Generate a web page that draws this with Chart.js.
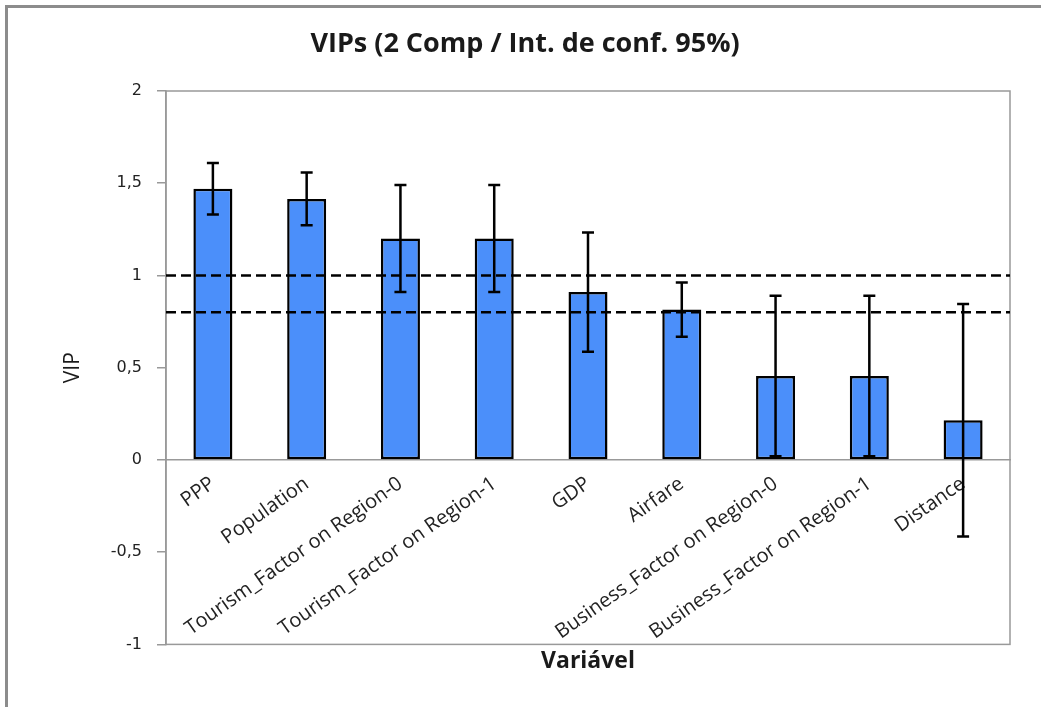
<!DOCTYPE html>
<html>
<head>
<meta charset="utf-8">
<title>VIPs</title>
<script src="https://cdn.jsdelivr.net/npm/chart.js@4"></script>
<style>
  html, body { margin: 0; padding: 0; background: #fff; overflow: hidden; }
  #wrap { position: relative; width: 1041px; height: 707px; }
  #frame {
    position: absolute; left: 5px; top: 5px; width: 1100px; height: 800px;
    border-left: 3px solid #8c8c8c; border-top: 3px solid #8c8c8c;
  }
  #myChart { position: absolute; left: 0; top: 0; }
</style>
</head>
<body>
<div id="wrap">
  <div id="frame"></div>
  <canvas id="myChart" width="1041" height="707"></canvas>
</div>
<script>
const variables = [
  "PPP",
  "Population",
  "Tourism_Factor on Region-0",
  "Tourism_Factor on Region-1",
  "GDP",
  "Airfare",
  "Business_Factor on Region-0",
  "Business_Factor on Region-1",
  "Distance",
];
const vipValues = [1.47, 1.415, 1.2, 1.2, 0.91, 0.815, 0.455, 0.455, 0.215];
// half width of the 95% confidence interval
const vipErrors = [0.14, 0.143, 0.29, 0.29, 0.323, 0.147, 0.435, 0.435, 0.63];
const thresholds = [1, 0.8];
const yTicks = { min: -1, max: 2, step: 0.5 };

const axisGray = "#999";

const plotFrame = {
  id: "plotFrame",
  beforeDatasetsDraw(chart) {
    const { ctx, chartArea } = chart;
    ctx.save();
    ctx.strokeStyle = axisGray;
    ctx.lineWidth = 1.5;
    ctx.strokeRect(chartArea.left, chartArea.top, chartArea.right - chartArea.left, chartArea.bottom - chartArea.top);
    ctx.restore();
  },
};

const overlays = {
  id: "overlays",
  afterDatasetsDraw(chart) {
    const { ctx, chartArea } = chart;
    const x = chart.scales.x;
    const y = chart.scales.y;

    // dashed reference lines
    ctx.save();
    ctx.strokeStyle = "#000";
    ctx.lineWidth = 2.5;
    ctx.setLineDash([10, 5]);
    thresholds.forEach((t) => {
      const py = y.getPixelForValue(t);
      ctx.beginPath();
      ctx.moveTo(chartArea.left, py);
      ctx.lineTo(chartArea.right, py);
      ctx.stroke();
    });
    ctx.restore();

    // error bars
    ctx.save();
    ctx.strokeStyle = "#000";
    ctx.lineWidth = 2.5;
    const cap = 6;
    vipValues.forEach((v, i) => {
      const px = x.getPixelForValue(i);
      const top = y.getPixelForValue(v + vipErrors[i]);
      const bottom = y.getPixelForValue(v - vipErrors[i]);
      ctx.beginPath();
      ctx.moveTo(px, top);
      ctx.lineTo(px, bottom);
      ctx.moveTo(px - cap, top);
      ctx.lineTo(px + cap, top);
      ctx.moveTo(px - cap, bottom);
      ctx.lineTo(px + cap, bottom);
      ctx.stroke();
    });
    ctx.restore();
  },
};

const chart = new Chart("myChart", {
  type: "bar",
  data: {
    labels: variables,
    datasets: [
      {
        data: vipValues,
        backgroundColor: "#4b8ffa",
        borderColor: "#000",
        borderWidth: 2.5,
        borderSkipped: false,
        barPercentage: 0.416,
        categoryPercentage: 1,
        xAxisID: "x",
      },
    ],
  },
  options: {
    responsive: false,
    animation: false,
    layout: { padding: { left: 40, right: 31, top: 0, bottom: 25 } },
    plugins: {
      legend: { display: false },
      tooltip: { enabled: false },
      title: {
        display: true,
        text: "VIPs (2 Comp / Int. de conf. 95%)",
        color: "#1a1a1a",
        font: { family: "'Open Sans', sans-serif", size: 27, weight: "bold" },
        padding: { top: 28, bottom: 30.6 },
      },
    },
    scales: {
      x: {
        type: "category",
        position: { y: 0 },
        grid: { display: false, drawTicks: false },
        border: { display: true, color: axisGray, width: 1.5 },
        ticks: {
          autoSkip: false,
          minRotation: 35,
          maxRotation: 35,
          padding: 12,
          color: "#222",
          font: { family: "'Open Sans', sans-serif", size: 20 },
        },
      },
      x2: {
        type: "category",
        position: "bottom",
        grid: { display: false, drawTicks: false },
        border: { display: false },
        ticks: { display: false },
        title: {
          display: true,
          text: "Variável",
          color: "#1a1a1a",
          font: { family: "'Open Sans', sans-serif", size: 23, weight: "bold" },
          padding: { top: 3, bottom: 7 },
        },
      },
      y: {
        min: yTicks.min,
        max: yTicks.max,
        afterFit(scale) {
          scale.width = 126;
        },
        grid: { drawOnChartArea: false, tickLength: 9, color: axisGray, lineWidth: 1.5 },
        border: { display: true, color: axisGray, width: 1.5 },
        ticks: {
          stepSize: yTicks.step,
          padding: 15,
          color: "#222",
          font: { family: "'DejaVu Sans', sans-serif", size: 16 },
          callback: (value) => String(value).replace(".", ","),
        },
        title: {
          display: true,
          text: "VIP",
          color: "#1a1a1a",
          font: { family: "'Open Sans', sans-serif", size: 21 },
          padding: { top: 20, bottom: 0 },
        },
      },
    },
  },
  plugins: [plotFrame, overlays],
});
</script>
</body>
</html>
